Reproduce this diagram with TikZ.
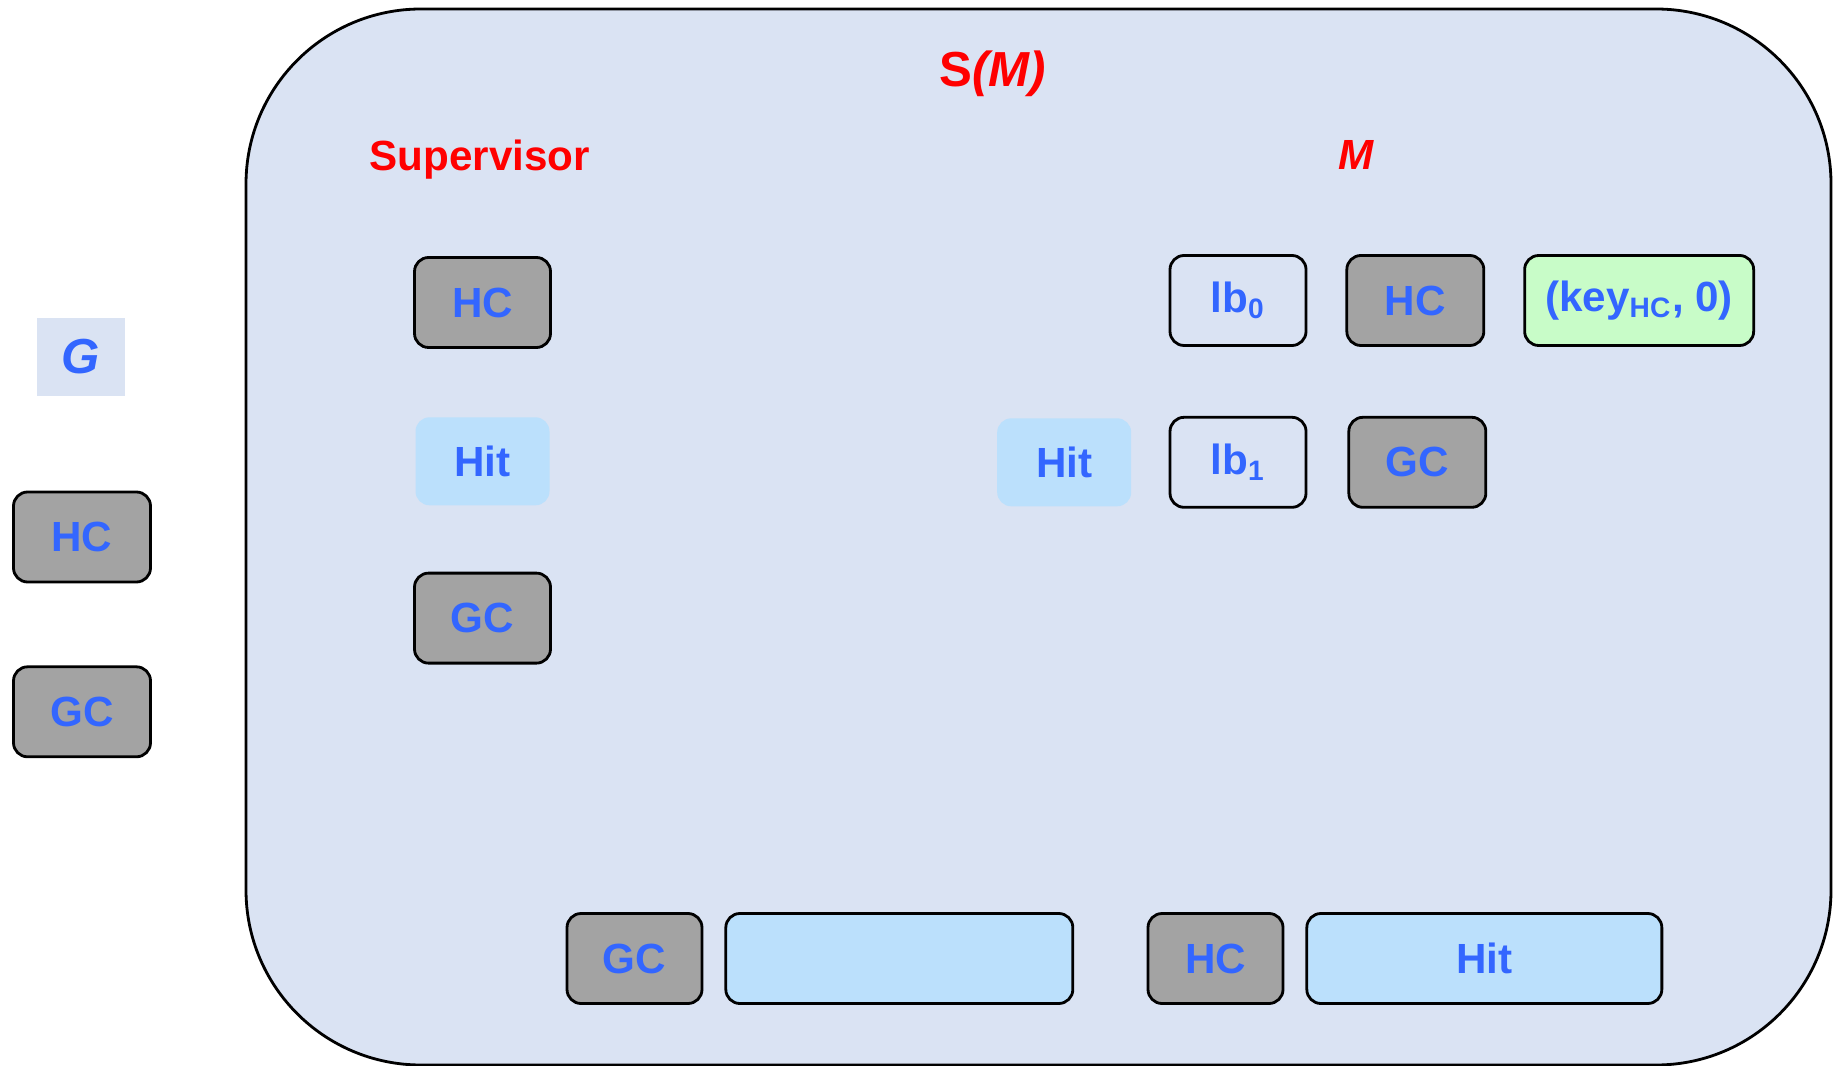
\documentclass[tikz,border=0pt]{standalone}
\usepackage{fontspec}
\setmainfont{Liberation Sans}
\usepackage{xcolor}
\usetikzlibrary{positioning}

\definecolor{regionbg}{HTML}{DAE3F3}
\definecolor{tokengray}{HTML}{A3A3A3}
\definecolor{hitblue}{HTML}{BBE0FC}
\definecolor{keygreen}{HTML}{C8FCC8}
\definecolor{labelblue}{HTML}{3366FF}
\definecolor{titlered}{HTML}{FF0000}

\tikzset{
    tok/.style={line width=0.8pt, rounded corners=4pt, minimum height=0.9cm, inner sep=0pt, text=labelblue},
    gray tok/.style={tok, draw, fill=tokengray, minimum width=1.37cm},
    plain tok/.style={tok, draw, minimum width=1.36cm},
    hit tok/.style={tok, fill=hitblue, minimum width=1.34cm, minimum height=0.88cm},
    queue tok/.style={tok, draw, fill=hitblue},
    key tok/.style={tok, draw, fill=keygreen, minimum width=2.29cm},
    title/.style={text=titlered}
}

\begin{document}
\begin{tikzpicture}[font=\fontsize{12}{14}\selectfont\bfseries]
    \useasboundingbox (0,0) rectangle (18.37,10.65);
    \draw[fill=regionbg, line width=0.8pt, rounded corners=1.75cm] (2.46,0) rectangle (18.31,10.56);

    % outside S(M)
    \node[fill=regionbg, text=labelblue, minimum width=0.88cm, minimum height=0.78cm, font=\fontsize{14}{16}\selectfont\bfseries] (g) at (0.81,7.08) {\textit{G}};
    \node[gray tok] (hcOut) at (0.82,5.28) {HC};
    \node[gray tok, below=0.82cm of hcOut] (gcOut) {GC};

    % labels
    \node[title, font=\fontsize{14}{16}\selectfont\bfseries] (sm) at (9.93,9.91) {S\textit{(M)}};
    \node[title] (sup) at (4.80,9.05) {Supervisor};
    \node[title] (mName) at (13.56,9.10) {\textit{M}};

    % supervisor column
    \node[gray tok, minimum width=1.36cm] (supHC) at (4.825,7.625) {HC};
    \node[hit tok, below=0.67cm of supHC] (supHit) {Hit};
    \node[gray tok, minimum width=1.36cm, below=0.65cm of supHit] (supGC) {GC};

    % machine M
    \node[plain tok] (lb0) at (12.38,7.645) {lb\textsubscript{0}};
    \node[gray tok, right=0.38cm of lb0] (mHC) {HC};
    \node[key tok, right=0.38cm of mHC] (key) {(key\textsubscript{HC}, 0)};
    \node[plain tok, below=0.69cm of lb0] (lb1) {lb\textsubscript{1}};
    \node[gray tok, right=0.40cm of lb1] (mGC) {GC};
    \node[hit tok, left=0.36cm of lb1] (mHit) {Hit};

    % bottom row
    \node[gray tok, minimum width=1.35cm] (qGC) at (6.345,1.065) {GC};
    \node[queue tok, minimum width=3.47cm, right=0.21cm of qGC] (qBlank) {};
    \node[gray tok, minimum width=1.35cm] (qHC) at (12.155,1.065) {HC};
    \node[queue tok, minimum width=3.55cm, right=0.21cm of qHC] (qHit) {Hit};
\end{tikzpicture}
\end{document}
